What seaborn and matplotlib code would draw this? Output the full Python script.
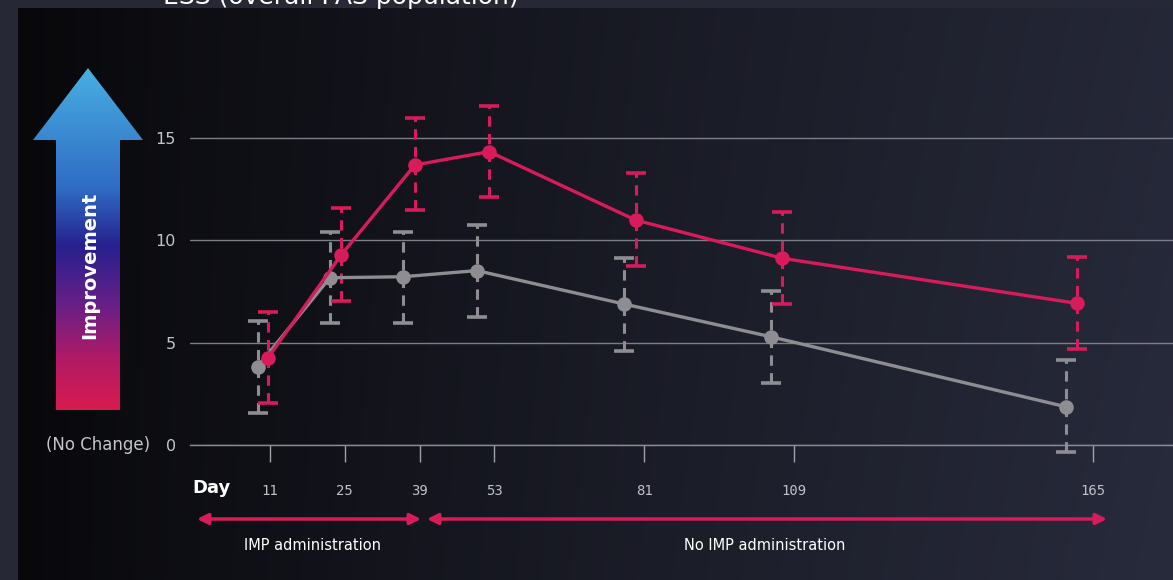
import numpy as np
import pandas as pd
import matplotlib
matplotlib.use('Agg')
import matplotlib.pyplot as plt
import seaborn as sns
from matplotlib.patches import Polygon
from matplotlib.colors import LinearSegmentedColormap

# visit days shown on the x axis
tick_days = [11, 25, 39, 53, 81, 109, 165]
tick_labels = ['11', '25', '39', '53', '81', '109', '165']

# plotted positions (days); points sit a bit left of the ticks
red_x = [10.6, 24.3, 38.1, 52.0, 79.4, 106.9, 162.0]
red_y = [4.25, 9.28, 13.68, 14.33, 10.99, 9.12, 6.92]
red_hi = [6.50, 11.56, 15.96, 16.58, 13.27, 11.40, 9.17]
red_lo = [2.05, 7.05, 11.48, 12.10, 8.76, 6.89, 4.67]

gray_x = [8.7, 22.2, 35.9, 49.7, 77.2, 104.7, 159.9]
gray_y = [3.83, 8.17, 8.22, 8.52, 6.89, 5.29, 1.87]
gray_hi = [6.07, 10.42, 10.42, 10.75, 9.12, 7.52, 4.15]
gray_lo = [1.58, 5.94, 5.94, 6.24, 4.61, 3.04, -0.33]

RED = '#d81b5a'
GRAY = '#8e8e92'
W, H = 1173, 580

sns.set_theme(style='dark')
plt.rcParams['font.family'] = ['DejaVu Sans']

fig = plt.figure(figsize=(W / 100, H / 100), dpi=100)
fig.patch.set_facecolor('#262835')

# background layer in pixel coordinates
bg = fig.add_axes([0, 0, 1, 1], zorder=0)
bg.set_xlim(0, W)
bg.set_ylim(H, 0)
bg.axis('off')

xs = np.linspace(0, 1, 300)
ys = np.linspace(0, 1, 80)
xf, yf = np.meshgrid(xs, ys)
t = np.clip(xf ** 0.9 * (0.85 + 0.15 * yf) + 0.05 * (1 - yf) * xf, 0, 1)
left = np.array([8, 8, 11]) / 255
right = np.array([40, 43, 60]) / 255
img = left[None, None, :] * (1 - t[..., None]) + right[None, None, :] * t[..., None]
bg.imshow(img, extent=[18, W, H, 8], aspect='auto', interpolation='bilinear', zorder=0)

# gradient "Improvement" arrow
arrow_cmap = LinearSegmentedColormap.from_list(
    'impr', [(0.0, '#48aee2'), (0.35, '#2f6cc4'), (0.52, '#26208e'),
             (0.7, '#6a1f86'), (0.85, '#b01a66'), (1.0, '#d81b50')])
grad = np.linspace(0, 1, 200)[:, None]
im = bg.imshow(grad, cmap=arrow_cmap, extent=[33, 143, 410, 68], aspect='auto', zorder=2)
poly = Polygon([(56, 410), (56, 140), (33, 140), (88, 68), (143, 140), (120, 140), (120, 410)],
               closed=True, transform=bg.transData, facecolor='none', edgecolor='none')
bg.add_patch(poly)
im.set_clip_path(poly)
bg.text(90, 265, 'Improvement', rotation=90, color='white', fontsize=14,
        fontweight='bold', ha='center', va='center', zorder=3)
bg.text(150, 445, '(No Change)', color='#c4c4cc', fontsize=12, ha='right', va='center')

# title, cut off by the top edge as in the source screenshot
bg.text(163, 4, 'ESS (overall PAS population)', color='white', fontsize=18, va='baseline')

# phase arrows
bg.annotate('', xy=(197, 519), xytext=(421, 519),
            arrowprops=dict(arrowstyle='<|-|>', color=RED, lw=2.5, mutation_scale=16,
                            shrinkA=0, shrinkB=0))
bg.annotate('', xy=(427, 519), xytext=(1107, 519),
            arrowprops=dict(arrowstyle='<|-|>', color=RED, lw=2.5, mutation_scale=16,
                            shrinkA=0, shrinkB=0))
bg.text(312, 545, 'IMP administration', color='white', fontsize=10.5, ha='center', va='center')
bg.text(765, 545, 'No IMP administration', color='white', fontsize=10.5, ha='center', va='center')
bg.text(212, 488, 'Day', color='white', fontsize=13, fontweight='bold', ha='center', va='center')

# main plot axes: y=0 at pixel 445, 20.47 px per unit; day 11 at x=270, 5.344 px per day
ax_left, ax_top, ax_bottom = 190, 60, 445
ax = fig.add_axes([ax_left / W, 1 - ax_bottom / H, 1 - ax_left / W, (ax_bottom - ax_top) / H], zorder=1)
ax.set_facecolor('none')
ax.set_ylim(0, (ax_bottom - ax_top) / 20.47)
ax.set_xlim(11 - (270 - ax_left) / 5.344, 11 + (W - 270) / 5.344)

df = pd.DataFrame({
    'day': gray_x + red_x,
    'value': gray_y + red_y,
    'group': ['control'] * len(gray_x) + ['treated'] * len(red_x),
})

for x, y, lo, hi, c in [(gray_x, gray_y, gray_lo, gray_hi, GRAY), (red_x, red_y, red_lo, red_hi, RED)]:
    y = np.array(y)
    eb = ax.errorbar(x, y, yerr=[y - np.array(lo), np.array(hi) - y], fmt='none',
                     ecolor=c, elinewidth=2.2, capsize=7, capthick=2.6, zorder=3)
    eb[2][0].set_linestyle((0, (3.4, 2.4)))
    for a in eb[1]:
        a.set_clip_on(False)
    eb[2][0].set_clip_on(False)

sns.lineplot(data=df, x='day', y='value', hue='group', hue_order=['control', 'treated'],
             palette={'control': GRAY, 'treated': RED}, marker='o', markersize=10.5,
             markeredgewidth=0, linewidth=2.4, legend=False, ax=ax, zorder=4)

ax.set_yticks([0, 5, 10, 15])
ax.set_xticks(tick_days)
ax.set_xticklabels(tick_labels, family='DejaVu Sans Mono')
ax.grid(axis='y', color='#7c7e8a', linewidth=1)
ax.grid(axis='x', visible=False)
for s in ['top', 'left', 'right']:
    ax.spines[s].set_visible(False)
ax.spines['bottom'].set_color('#8a8c96')
ax.spines['bottom'].set_linewidth(1)
ax.tick_params(axis='y', length=0, pad=10, labelsize=11.5, labelcolor='#c4c4cc')
ax.tick_params(axis='x', bottom=True, direction='out', length=12, width=1, color='#a0a2aa',
               pad=16, labelsize=10, labelcolor='#c0c0c8')
ax.set_xlabel('')
ax.set_ylabel('')

fig.savefig('out.png', dpi=100, facecolor=fig.get_facecolor())
